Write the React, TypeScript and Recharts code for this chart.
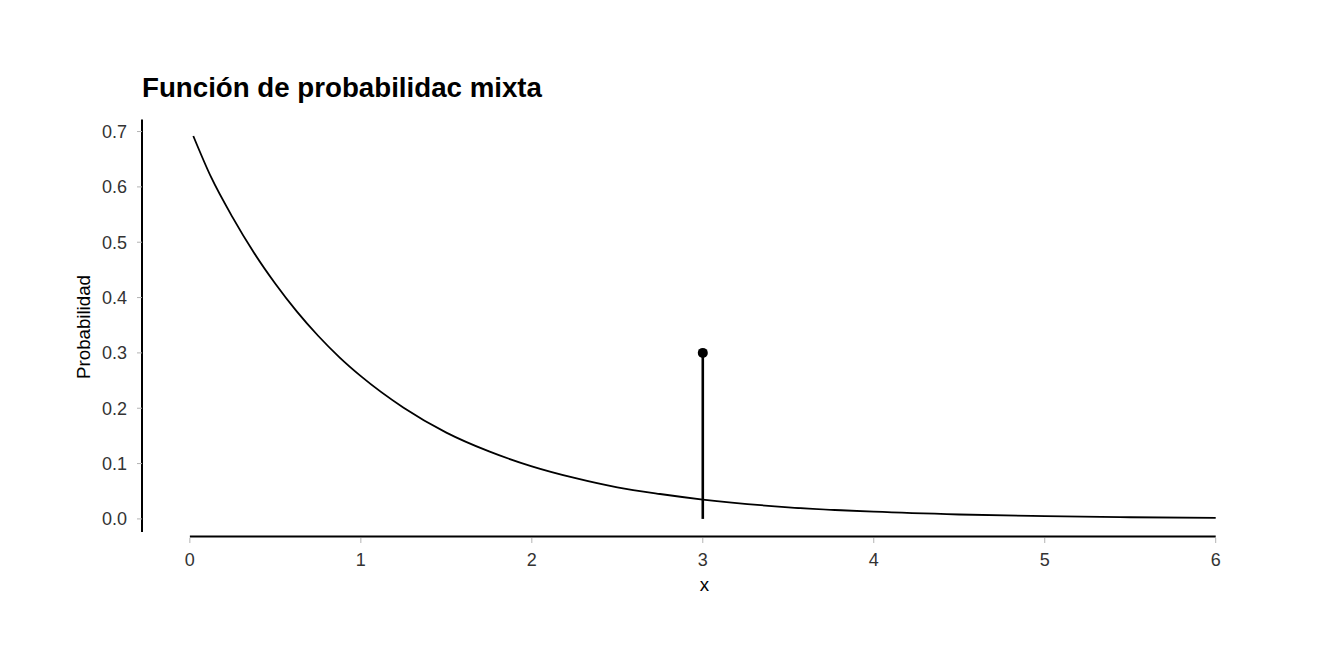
import { ComposedChart, Line, Scatter, XAxis, YAxis, ReferenceLine } from "recharts";

// continuous part of the mixed distribution (density)
const curveX = [0.02, 0.125, 0.25, 0.375, 0.5, 0.625, 0.75, 0.875, 1, 1.25, 1.5, 1.75, 2, 2.25, 2.5, 2.75, 3, 3.5, 4, 4.5, 5, 5.5, 6];
const curveY = [0.692, 0.617, 0.545, 0.481, 0.425, 0.375, 0.331, 0.292, 0.258, 0.201, 0.156, 0.122, 0.095, 0.074, 0.057, 0.045, 0.035, 0.021, 0.013, 0.008, 0.005, 0.003, 0.002];

// point mass
const massX = [3, 3];
const massY = [0, 0.3];

const xTicks = [0, 1, 2, 3, 4, 5, 6];
const yTicks = [0, 0.1, 0.2, 0.3, 0.4, 0.5, 0.6, 0.7];

const curve = curveX.map((x, i) => ({ x, y: curveY[i] }));
const mass = massX.map((x, i) => ({ x, y: massY[i] }));
const massTop = [{ x: massX[1], y: massY[1] }];

const font = "'Liberation Sans', Arial, sans-serif";
const tickStyle = { fill: "#333333", fontSize: 18, fontFamily: font };

export default function App() {
  return (
    <div style={{ position: "absolute", left: 0, top: 0, width: 1344, height: 672, background: "#fff" }}>
      <div style={{ position: "absolute", left: 142, top: 72, fontFamily: font, fontWeight: "bold", fontSize: 27.7, color: "#000", whiteSpace: "nowrap" }}>
        Función de probabilidac mixta
      </div>
      <ComposedChart width={1344} height={672} margin={{ top: 118, right: 77, bottom: 94, left: 82 }}>
        <XAxis
          type="number"
          dataKey="x"
          domain={[-0.28, 6.3]}
          ticks={xTicks}
          allowDataOverflow
          axisLine={false}
          tickLine={{ stroke: "#b3b3b3" }}
          tickSize={5}
          tickMargin={10}
          tick={tickStyle}
          height={40}
        />
        <YAxis
          type="number"
          dataKey="y"
          domain={[-0.0345, 0.7245]}
          ticks={yTicks}
          allowDataOverflow
          axisLine={false}
          tickLine={{ stroke: "#b3b3b3" }}
          tickSize={5}
          tickMargin={10}
          tick={tickStyle}
          tickFormatter={(v: number) => v.toFixed(1)}
          width={60}
        />
        <ReferenceLine
          segment={[{ x: 0, y: -0.032 }, { x: 6, y: -0.032 }]}
          stroke="#000"
          strokeWidth={2}
          ifOverflow="visible"
        />
        <ReferenceLine
          segment={[{ x: -0.28, y: 0.7217 }, { x: -0.28, y: -0.0235 }]}
          stroke="#000"
          strokeWidth={2}
          ifOverflow="visible"
        />
        <Line data={curve} dataKey="y" type="monotone" stroke="#000" strokeWidth={1.8} dot={false} isAnimationActive={false} />
        <Line data={mass} dataKey="y" type="linear" stroke="#000" strokeWidth={2.6} dot={false} isAnimationActive={false} />
        <Scatter data={massTop} dataKey="y" fill="#000" shape={(p: any) => <circle cx={p.cx} cy={p.cy} r={5} fill="#000" />} isAnimationActive={false} />
      </ComposedChart>
      <div style={{ position: "absolute", left: 704.5, top: 574, transform: "translateX(-50%)", fontFamily: font, fontSize: 18.7, color: "#000" }}>x</div>
      <div
        style={{
          position: "absolute",
          left: 84,
          top: 327,
          transform: "translate(-50%, -50%) rotate(-90deg)",
          fontFamily: font,
          fontSize: 18.7,
          color: "#000",
          whiteSpace: "nowrap",
        }}
      >
        Probabilidad
      </div>
    </div>
  );
}
